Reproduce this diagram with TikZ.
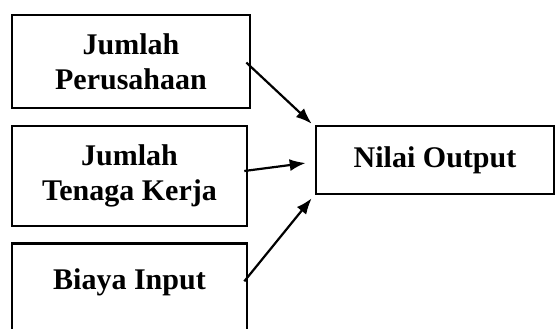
\documentclass[tikz,border=0pt]{standalone}
\usepackage{fontspec}
\setmainfont{Liberation Serif}
\usetikzlibrary{arrows.meta}
\tikzset{kotak/.style={draw, line width=2.6pt, inner sep=0pt, align=center,
  font=\bfseries\fontsize{30}{35}\selectfont}}

\begin{document}
\begin{tikzpicture}[x=1pt,y=-1pt]
\useasboundingbox (0,0) rectangle (555,329);
\clip (0,0) rectangle (555,329);
\node [kotak, minimum width=238pt, minimum height=93pt] (b1) at (131,61.5) {Jumlah\\Perusahaan};
\node [kotak, minimum width=235pt, minimum height=100pt] (b2) at (129.5,176) {Jumlah\\Tenaga Kerja};
\node [kotak, anchor=north, minimum width=235pt, text height=46pt, text depth=60pt] (b3) at (129.5,242) {Biaya Input};
\node [kotak, minimum width=238pt, minimum height=68pt] (out) at (435,160) {Nilai Output};
\draw [line width=2.2pt,->,>={Latex[length=16pt,width=12pt]}] ([xshift=-5pt,yshift=-1pt]b1.east)--([shift={(-3pt,1pt)}]out.north west);
\draw [line width=2.2pt,->,>={Latex[length=16pt,width=12pt]}] ([xshift=-4pt,yshift=5pt]b2.east)--([xshift=-9pt,yshift=-3pt]out.west);
\draw [line width=2.2pt,->,>={Latex[length=16pt,width=12pt]}] ([xshift=-4pt,yshift=15pt]b3.east)--([shift={(-3pt,-3pt)}]out.south west);
\end{tikzpicture}
\end{document}
